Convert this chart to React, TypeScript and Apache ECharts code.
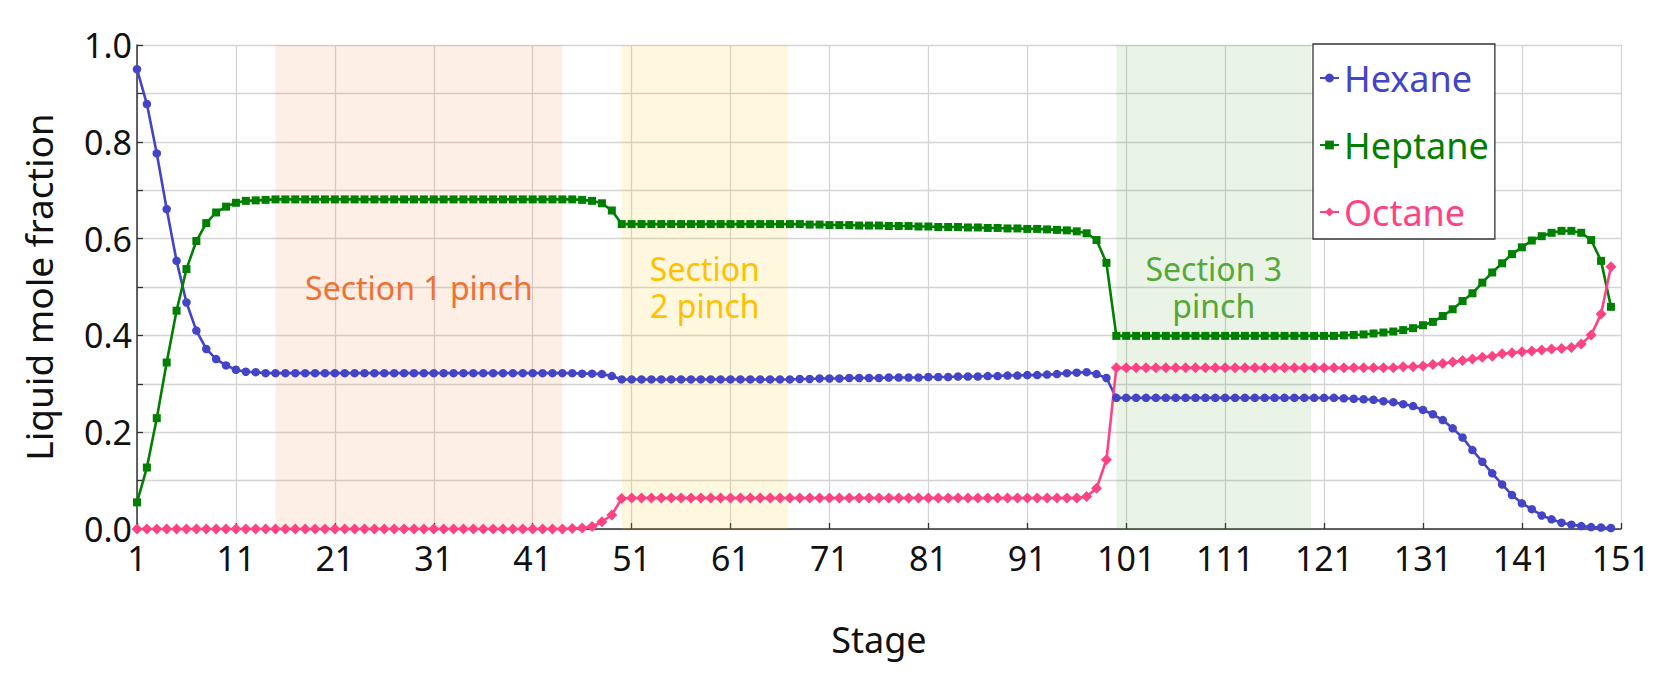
import React, { useEffect, useRef } from "react";
import * as echarts from "echarts";

// Liquid mole fractions, stages 1..150
const hexane = [
  0.950, 0.878, 0.776, 0.661, 0.554, 0.468, 0.410, 0.372, 0.351, 0.338,
  0.329, 0.325, 0.324, 0.322, 0.322, 0.322, 0.322, 0.322, 0.322, 0.322,
  0.322, 0.322, 0.322, 0.322, 0.322, 0.322, 0.322, 0.322, 0.322, 0.322,
  0.322, 0.322, 0.322, 0.322, 0.322, 0.322, 0.322, 0.322, 0.322, 0.322,
  0.322, 0.322, 0.322, 0.322, 0.322, 0.321, 0.321, 0.320, 0.316, 0.309,
  0.309, 0.309, 0.309, 0.309, 0.309, 0.309, 0.309, 0.309, 0.309, 0.309,
  0.309, 0.309, 0.309, 0.309, 0.309, 0.309, 0.309, 0.310, 0.310, 0.311,
  0.311, 0.311, 0.312, 0.312, 0.312, 0.312, 0.313, 0.313, 0.313, 0.313,
  0.314, 0.314, 0.314, 0.315, 0.315, 0.315, 0.316, 0.316, 0.317, 0.317,
  0.318, 0.318, 0.319, 0.320, 0.322, 0.323, 0.324, 0.320, 0.312, 0.271,
  0.271, 0.271, 0.271, 0.271, 0.271, 0.271, 0.271, 0.271, 0.271, 0.271,
  0.271, 0.271, 0.271, 0.271, 0.271, 0.271, 0.271, 0.271, 0.271, 0.271,
  0.271, 0.271, 0.270, 0.269, 0.268, 0.267, 0.264, 0.262, 0.258, 0.254,
  0.246, 0.237, 0.225, 0.208, 0.189, 0.163, 0.139, 0.115, 0.092, 0.070,
  0.053, 0.041, 0.028, 0.020, 0.013, 0.009, 0.006, 0.004, 0.003, 0.002,
];

const heptane = [
  0.055, 0.127, 0.229, 0.344, 0.451, 0.537, 0.595, 0.632, 0.654, 0.666,
  0.674, 0.678, 0.679, 0.680, 0.681, 0.681, 0.681, 0.681, 0.681, 0.681,
  0.681, 0.681, 0.681, 0.681, 0.681, 0.681, 0.681, 0.681, 0.681, 0.681,
  0.681, 0.681, 0.681, 0.681, 0.681, 0.681, 0.681, 0.681, 0.681, 0.681,
  0.681, 0.681, 0.681, 0.681, 0.681, 0.680, 0.678, 0.673, 0.658, 0.630,
  0.630, 0.630, 0.630, 0.630, 0.630, 0.630, 0.630, 0.630, 0.630, 0.630,
  0.630, 0.630, 0.630, 0.630, 0.630, 0.630, 0.630, 0.630, 0.629, 0.629,
  0.628, 0.628, 0.628, 0.627, 0.627, 0.627, 0.626, 0.626, 0.626, 0.625,
  0.625, 0.624, 0.624, 0.624, 0.623, 0.623, 0.622, 0.622, 0.621, 0.621,
  0.620, 0.620, 0.619, 0.618, 0.617, 0.615, 0.611, 0.597, 0.550, 0.399,
  0.399, 0.399, 0.399, 0.399, 0.399, 0.399, 0.399, 0.399, 0.399, 0.399,
  0.399, 0.399, 0.399, 0.399, 0.399, 0.399, 0.399, 0.399, 0.399, 0.399,
  0.399, 0.399, 0.400, 0.401, 0.402, 0.404, 0.406, 0.408, 0.411, 0.415,
  0.421, 0.428, 0.440, 0.454, 0.471, 0.487, 0.509, 0.530, 0.549, 0.568,
  0.582, 0.596, 0.605, 0.612, 0.616, 0.616, 0.612, 0.597, 0.554, 0.459,
];

const octane = [
  0.000, 0.000, 0.000, 0.000, 0.000, 0.000, 0.000, 0.000, 0.000, 0.000,
  0.000, 0.000, 0.000, 0.000, 0.000, 0.000, 0.000, 0.000, 0.000, 0.000,
  0.000, 0.000, 0.000, 0.000, 0.000, 0.000, 0.000, 0.000, 0.000, 0.000,
  0.000, 0.000, 0.000, 0.000, 0.000, 0.000, 0.000, 0.000, 0.000, 0.000,
  0.000, 0.000, 0.000, 0.000, 0.001, 0.002, 0.005, 0.015, 0.029, 0.063,
  0.064, 0.064, 0.064, 0.064, 0.064, 0.064, 0.064, 0.064, 0.064, 0.064,
  0.064, 0.064, 0.064, 0.064, 0.064, 0.064, 0.064, 0.064, 0.064, 0.064,
  0.064, 0.064, 0.064, 0.064, 0.064, 0.064, 0.064, 0.064, 0.064, 0.064,
  0.064, 0.064, 0.064, 0.064, 0.064, 0.064, 0.064, 0.064, 0.064, 0.064,
  0.064, 0.064, 0.064, 0.064, 0.064, 0.064, 0.067, 0.084, 0.143, 0.333,
  0.333, 0.333, 0.333, 0.333, 0.333, 0.333, 0.333, 0.333, 0.333, 0.333,
  0.333, 0.333, 0.333, 0.333, 0.333, 0.333, 0.333, 0.333, 0.333, 0.333,
  0.333, 0.333, 0.333, 0.333, 0.333, 0.333, 0.333, 0.333, 0.335, 0.335,
  0.337, 0.340, 0.342, 0.345, 0.348, 0.351, 0.355, 0.357, 0.362, 0.364,
  0.366, 0.368, 0.370, 0.372, 0.373, 0.375, 0.382, 0.401, 0.444, 0.542,
];

const seriesNames = ["Hexane", "Heptane", "Octane"];
const seriesColors = ["#4444c6", "#008000", "#ff4382"];
const seriesSymbols = ["circle", "rect", "diamond"];
const seriesSymbolSizes = [8.5, 8, 11];

// Pinch sections, in stage numbers [start, end]
const sectionRanges = [
  [15, 44],
  [50, 66.8],
  [100, 119.7],
];
const sectionLabels = ["Section 1 pinch", "Section\n2 pinch", "Section 3\npinch"];
const sectionFill = ["rgba(240,112,48,0.12)", "rgba(255,192,0,0.13)", "rgba(80,165,50,0.12)"];
const sectionTextColor = ["#ee7234", "#ffc000", "#55a83a"];

const FONT = "'Noto Sans', 'Open Sans', sans-serif";

export default function App() {
  const ref = useRef<HTMLDivElement>(null);

  useEffect(() => {
    if (!ref.current) return;
    const chart = echarts.init(ref.current, undefined, { renderer: "svg" });
    const allData = [hexane, heptane, octane];

    const option: any = {
      animation: false,
      backgroundColor: "#ffffff",
      textStyle: { fontFamily: FONT },
      grid: { left: 129, right: 31, top: 37, bottom: 154, containLabel: false },
      legend: {
        orient: "vertical",
        left: 1305,
        top: 36,
        padding: [14, 6, 7, 6],
        itemGap: 27,
        itemWidth: 19,
        itemHeight: 11,
        borderColor: "#333",
        borderWidth: 1.3,
        borderRadius: 0,
        backgroundColor: "#ffffff",
        textStyle: { fontSize: 36, lineHeight: 40, fontFamily: FONT },
        data: seriesNames.map((n, i) => ({
          name: n,
          textStyle: { color: seriesColors[i], fontSize: 36, lineHeight: 40, fontFamily: FONT },
        })),
      },
      xAxis: {
        type: "value",
        min: 0,
        max: 150,
        interval: 10,
        name: "Stage",
        nameLocation: "middle",
        nameGap: 92,
        nameTextStyle: { fontSize: 36, color: "#111", fontFamily: FONT },
        axisLine: { show: true, onZero: false, lineStyle: { color: "#333", width: 1.5 } },
        axisTick: { show: true, inside: true, length: 6, lineStyle: { color: "#333", width: 1.3 } },
        axisLabel: {
          fontSize: 34,
          color: "#111",
          margin: 12,
          fontFamily: FONT,
          formatter: (v: number) => String(v + 1),
        },
        splitLine: { show: true, lineStyle: { color: "#d4d4d4", width: 1.3 } },
      },
      yAxis: {
        type: "value",
        min: 0,
        max: 1,
        interval: 0.2,
        name: "Liquid mole fraction",
        nameLocation: "middle",
        nameGap: 80,
        nameTextStyle: { fontSize: 37, color: "#111", fontFamily: FONT },
        axisLine: { show: true, lineStyle: { color: "#333", width: 1.5 } },
        axisTick: { show: true, inside: true, length: 6, lineStyle: { color: "#333", width: 1.3 } },
        minorTick: { show: true, splitNumber: 2, length: 6, lineStyle: { color: "#333", width: 1.3 } },
        minorSplitLine: { show: true, lineStyle: { color: "#d4d4d4", width: 1.3 } },
        axisLabel: {
          fontSize: 34,
          color: "#111",
          margin: 5,
          fontFamily: FONT,
          formatter: (v: number) => v.toFixed(1),
        },
        splitLine: { show: true, lineStyle: { color: "#d4d4d4", width: 1.3 } },
      },
      series: [
        {
          name: "_sections",
          type: "line",
          data: [],
          z: 1,
          silent: true,
          markArea: {
            silent: true,
            data: sectionRanges.map((r, i) => [
              {
                xAxis: r[0] - 1,
                yAxis: 0,
                itemStyle: { color: sectionFill[i] },
                label: {
                  show: true,
                  position: "inside",
                  formatter: sectionLabels[i],
                  color: sectionTextColor[i],
                  fontSize: 32,
                  lineHeight: 37,
                  fontFamily: FONT,
                  align: "center",
                },
              },
              { xAxis: r[1] - 1, yAxis: 1 },
            ]),
          },
        },
        ...seriesNames.map((n, i) => ({
          name: n,
          type: "line",
          z: 3,
          data: allData[i].map((v, k) => [k, v]),
          symbol: seriesSymbols[i],
          symbolSize: seriesSymbolSizes[i],
          showSymbol: true,
          lineStyle: { color: seriesColors[i], width: 2.6 },
          itemStyle: { color: seriesColors[i], borderWidth: 0 },
        })),
      ],
    };
    chart.setOption(option);
    return () => chart.dispose();
  }, []);

  return <div ref={ref} style={{ width: 1645, height: 675 }} />;
}
